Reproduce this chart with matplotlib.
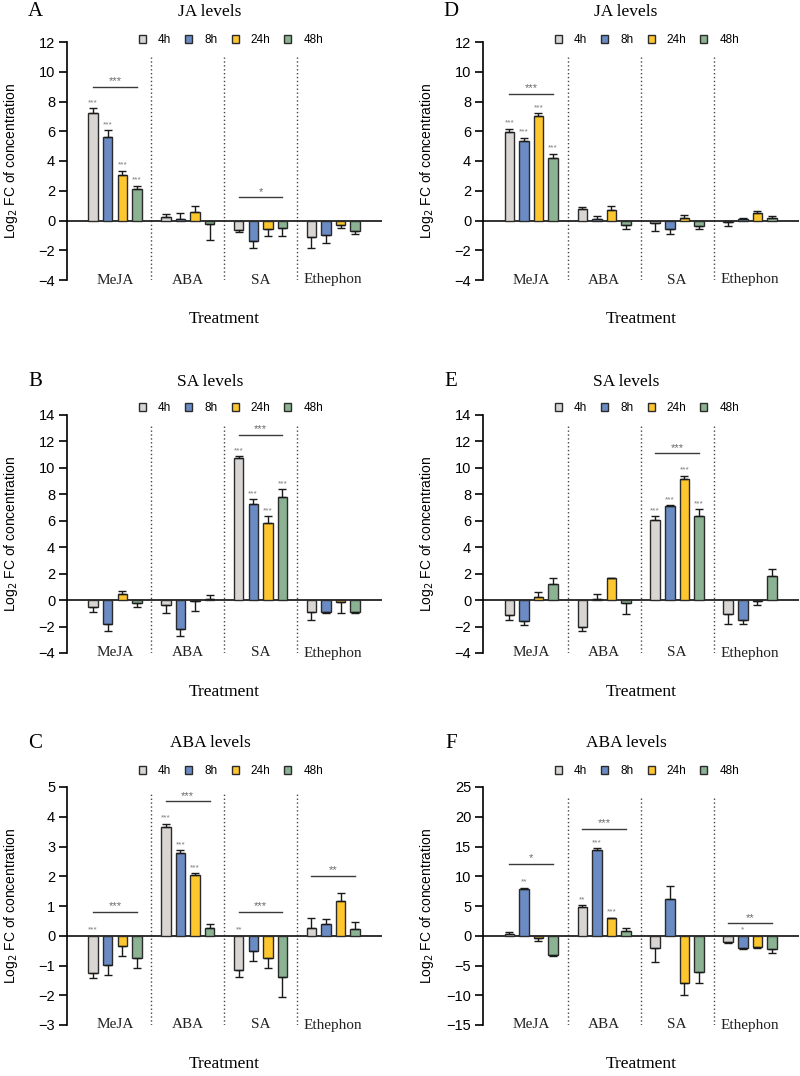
import matplotlib
matplotlib.use("Agg")
import matplotlib.pyplot as plt
from matplotlib.patches import Patch
import numpy as np

SANS = "Liberation Sans"
SERIF = "Liberation Serif"
plt.rcParams["font.family"] = SANS

treatments = ["MeJA", "ABA", "SA", "Ethephon"]
times = ["4h", "8h", "24h", "48h"]
colors = ["#D9D5D2", "#6B8BC4", "#FFC72E", "#8BB393"]

# rows = treatment, cols = time point
a_mean = [[7.24, 5.63, 3.09, 2.13], [0.25, 0.13, 0.56, -0.21],
          [-0.67, -1.35, -0.56, -0.49], [-1.12, -0.97, -0.27, -0.72]]
a_err = [[0.30, 0.44, 0.25, 0.20], [0.22, 0.39, 0.40, 1.13],
         [0.12, 0.49, 0.50, 0.52], [0.72, 0.53, 0.25, 0.22]]

d_mean = [[5.95, 5.33, 7.05, 4.23], [0.75, 0.07, 0.68, -0.33],
          [-0.15, -0.57, 0.19, -0.34], [-0.08, 0.10, 0.52, 0.15]]
d_err = [[0.22, 0.24, 0.15, 0.27], [0.15, 0.20, 0.32, 0.21],
         [0.57, 0.33, 0.21, 0.21], [0.30, 0.06, 0.13, 0.17]]

b_mean = [[-0.51, -1.82, 0.45, -0.20], [-0.38, -2.15, -0.10, 0.12],
          [10.78, 7.25, 5.80, 7.83], [-0.91, -0.90, -0.13, -0.92]]
b_err = [[0.38, 0.53, 0.25, 0.30], [0.58, 0.58, 0.71, 0.26],
         [0.12, 0.38, 0.56, 0.55], [0.61, 0.05, 0.83, 0.09]]

e_mean = [[-1.13, -1.59, 0.20, 1.19], [-2.05, 0.05, 1.67, -0.20],
          [6.06, 7.15, 9.14, 6.39], [-1.03, -1.54, -0.10, 1.79]]
e_err = [[0.41, 0.28, 0.43, 0.48], [0.25, 0.45, 0.0, 0.83],
         [0.30, 0.03, 0.28, 0.48], [0.77, 0.26, 0.28, 0.58]]

c_mean = [[-1.25, -0.98, -0.33, -0.76], [3.66, 2.77, 2.03, 0.27],
          [-1.14, -0.52, -0.75, -1.40], [0.27, 0.39, 1.16, 0.22]]
c_err = [[0.16, 0.35, 0.34, 0.33], [0.10, 0.11, 0.08, 0.12],
         [0.24, 0.34, 0.33, 0.66], [0.32, 0.16, 0.29, 0.23]]

f_mean = [[0.22, 7.80, -0.33, -3.24], [4.90, 14.35, 2.90, 0.84],
          [-2.10, 6.10, -8.00, -6.10], [-1.00, -2.10, -1.95, -2.23]]
f_err = [[0.34, 0.30, 0.51, 0.11], [0.20, 0.35, 0.10, 0.50],
         [2.37, 2.30, 2.00, 1.90], [0.17, 0.14, 0.05, 0.67]]

# significance: (treatment, time, mark) and brackets (treatment, y, mark)
a_sig = [(0, 0, "***"), (0, 1, "***"), (0, 2, "***"), (0, 3, "***")]
a_brk = [(0, 9.0, "***"), (2, 1.55, "*")]
d_sig = [(0, 0, "***"), (0, 1, "***"), (0, 2, "***"), (0, 3, "***")]
d_brk = [(0, 8.5, "***")]
b_sig = [(2, 0, "***"), (2, 1, "***"), (2, 2, "***"), (2, 3, "***")]
b_brk = [(2, 12.5, "***")]
e_sig = [(2, 0, "***"), (2, 1, "***"), (2, 2, "***"), (2, 3, "***")]
e_brk = [(2, 11.1, "***")]
c_sig = [(0, 0, "***"), (1, 0, "***"), (1, 1, "***"), (1, 2, "***"), (2, 0, "**")]
c_brk = [(0, 0.81, "***"), (1, 4.52, "***"), (2, 0.81, "***"), (3, 2.02, "**")]
f_sig = [(0, 1, "**"), (1, 0, "**"), (1, 1, "***"), (1, 2, "***"), (3, 1, "*")]
f_brk = [(0, 12.1, "*"), (1, 18.0, "***"), (3, 2.07, "**")]

W, H = 800, 1076
fig = plt.figure(figsize=(8, 10.76), dpi=100)

panels = [
    # letter, title, mean, err, sig, brk, ylim, step, col, row, sep_top
    ("A", "JA levels", a_mean, a_err, a_sig, a_brk, (-4, 12), 2, 0, 0, 11.0),
    ("B", "SA levels", b_mean, b_err, b_sig, b_brk, (-4, 14), 2, 0, 1, 13.3),
    ("C", "ABA levels", c_mean, c_err, c_sig, c_brk, (-3, 5), 1, 0, 2, 4.8),
    ("D", "JA levels", d_mean, d_err, d_sig, d_brk, (-4, 12), 2, 1, 0, 11.0),
    ("E", "SA levels", e_mean, e_err, e_sig, e_brk, (-4, 14), 2, 1, 1, 13.3),
    ("F", "ABA levels", f_mean, f_err, f_sig, f_brk, (-15, 25), 5, 1, 2, 23.3),
]

col_left = [67, 483]
col_width = [315, 316]
row_top = [42, 415, 787]
row_head = [12, 382, 743]
row_legend = [40, 408, 771]
ax_h = 238

offsets = np.array([-0.3, -0.1, 0.1, 0.3])
bw = 0.13
x = np.arange(len(treatments))

for letter, title, mean, err, sig, brk, ylim, step, col, row, sep_top in panels:
    left = col_left[col] / W
    bottom = 1 - (row_top[row] + ax_h) / H
    ax = fig.add_axes([left, bottom, col_width[col] / W, ax_h / H])
    mean = np.array(mean)
    err = np.array(err)
    for j in range(len(times)):
        m = mean[:, j]
        e = err[:, j]
        lo = np.where(m < 0, e, 0)
        hi = np.where(m >= 0, e, 0)
        ax.bar(x + offsets[j], m, bw, color=colors[j], edgecolor="#2b2b2b",
               linewidth=1.0, zorder=3)
        ax.errorbar(x + offsets[j], m, yerr=[lo, hi], fmt="none", ecolor="#1a1a1a",
                    elinewidth=1.0, capsize=3, capthick=1.0, zorder=4)
    for t, j, mk in sig:
        v = mean[t, j]
        yv = v + err[t, j] if v >= 0 else 0
        ax.annotate(mk, (x[t] + offsets[j], yv), xytext=(0, 1.5), textcoords="offset points",
                    ha="center", va="bottom", fontsize=6, color="#7a7a7a", zorder=5)
    for t, yv, mk in brk:
        ax.plot([x[t] + offsets[0], x[t] + offsets[3]], [yv, yv], color="#3a3a3a", lw=1.0, zorder=5)
        ax.annotate(mk, (x[t], yv), xytext=(0, 0.5), textcoords="offset points",
                    ha="center", va="bottom", fontsize=8, color="#6a6a6a", zorder=5)
    ax.axhline(0, color="#222222", lw=1.3, zorder=2)
    for s in [0.5, 1.5, 2.5]:
        ax.plot([s, s], [ylim[0], sep_top], color="#444444", lw=1.0, ls=(0, (1, 1.8)), zorder=1)
    ax.set_xlim(-0.66, 3.67)
    ax.set_ylim(*ylim)
    ax.set_yticks(np.arange(ylim[0], ylim[1] + step / 2, step))
    ax.set_xticks([])
    for sp in ["top", "right", "bottom"]:
        ax.spines[sp].set_visible(False)
    ax.spines["left"].set_linewidth(1.2)
    ax.tick_params(axis="y", labelsize=10.5, length=5.5, width=1.2, pad=3)
    for i, name in enumerate(treatments):
        ax.text(x[i], ylim[0], name, ha="center", va="center", fontsize=11,
                family=SERIF, color="#222222")
    ax.set_ylabel("Log$_2$ FC of concentration", fontsize=10)
    ax.yaxis.set_label_coords(-0.148, 0.5)
    ax.text(0.5, -0.165, "Treatment", transform=ax.transAxes, ha="center", va="center",
            fontsize=12.5, family=SERIF)
    fig.text((35 + 416 * col) / W, 1 - row_head[row] / H, letter, ha="center", va="center",
             fontsize=15, family=SERIF)
    fig.text((210 + 416 * col) / W, 1 - row_head[row] / H, title, ha="center", va="center",
             fontsize=12.5, family=SERIF)
    handles = [Patch(facecolor=c, edgecolor="#2b2b2b", linewidth=1.0) for c in colors]
    fig.legend(handles, times, loc="center", bbox_to_anchor=((231 + 416 * col) / W, 1 - row_legend[row] / H),
               ncol=4, frameon=False, fontsize=8.5, handlelength=0.6, handleheight=0.6,
               handletextpad=1.0, columnspacing=1.2, borderpad=0)

fig.savefig("out.png", dpi=100)
